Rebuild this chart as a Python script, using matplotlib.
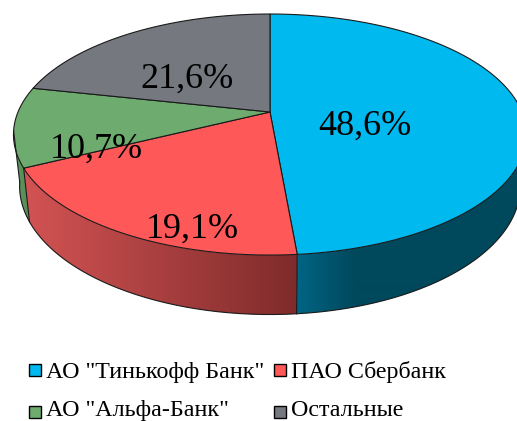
import numpy as np
import matplotlib
matplotlib.use("Agg")
import matplotlib.pyplot as plt
from matplotlib.patches import Polygon, Rectangle

labels = ['АО "Тинькофф Банк"', 'ПАО Сбербанк', 'АО "Альфа-Банк"', 'Остальные']
values = [48.6, 19.1, 10.7, 21.6]
value_text = ['48,6%', '19,1%', '10,7%', '21,6%']
colors = ['#00B9EE', '#FF5858', '#6EAB6E', '#75787F']
# side wall gradient, left colour to right colour across the given pixel span
side_left = ['#006584', '#D35353', '#5E955E', '#5A5C62']
side_right = ['#00485C', '#7F2B2B', '#588C58', '#5A5C62']
side_span = [(297, 355), (24, 297), (13, 30), (0, 517)]
label_xy = [(365, 135), (192, 238), (96, 158), (187, 88)]
legend_xy = [(28.5, 369.5), (273.5, 369.5), (28.5, 412), (273.5, 412)]
legend_baseline = [378, 378, 416, 416]

CX, CY = 270, 112
A, B, K = 252, 116.3, 0.187
A2, B2, D = 246, 124, 50
FONT = 'Liberation Serif'


def top_rim(theta):
    X, Y = np.sin(theta), np.cos(theta)
    w = 1 + K * Y
    return CX + A * X / w, CY - B * Y / w


def bottom_rim(theta):
    X, Y = np.sin(theta), np.cos(theta)
    w = 1 + K * Y
    return CX + A2 * X / w, CY + D - B2 * Y / w


fig = plt.figure(figsize=(5.17, 4.21), dpi=100)
ax = fig.add_axes([0, 0, 1, 1])
ax.axis('off')

edges = 2 * np.pi * np.concatenate([[0], np.cumsum(values)]) / sum(values)
vis_lo, vis_hi = np.radians(100), np.radians(261)
LINE = dict(color='#1a1a1a', lw=0.8, zorder=5)

# side wall: a horizontal gradient clipped to each slice's wall
for i in range(len(values)):
    lo, hi = max(edges[i], vis_lo), min(edges[i + 1], vis_hi)
    if hi <= lo:
        continue
    ts = np.linspace(lo, hi, 200)
    tx, ty = top_rim(ts)
    bx, by = bottom_rim(ts)
    poly = Polygon(np.column_stack([np.r_[tx, bx[::-1]], np.r_[ty, by[::-1]]]),
                   closed=True, fc='none', ec='none', transform=ax.transData)
    ax.add_patch(poly)
    c0 = np.array(matplotlib.colors.to_rgb(side_left[i]))
    c1 = np.array(matplotlib.colors.to_rgb(side_right[i]))
    xs = np.arange(0, 518)
    f = np.clip((xs - side_span[i][0]) / (side_span[i][1] - side_span[i][0]), 0, 1)[:, None]
    grad = (c0 * (1 - f) + c1 * f)[None, :, :]
    im = ax.imshow(grad, extent=(0, 518, 421, 0), aspect='auto', zorder=1, interpolation='bilinear')
    im.set_clip_path(poly)

ax.set_xlim(0, 517)
ax.set_ylim(421, 0)

# lower outline and vertical edges
ts = np.linspace(vis_lo, vis_hi, 300)
ax.plot(*bottom_rim(ts), **LINE)
ax.plot([top_rim(vis_hi)[0], bottom_rim(vis_hi)[0]], [top_rim(vis_hi)[1], bottom_rim(vis_hi)[1]], **LINE)
for e in edges[1:3]:
    tx, ty = top_rim(e)
    bx, by = bottom_rim(e)
    ax.plot([tx, bx], [ty, by], **LINE)

# top face
for i in range(len(values)):
    ts = np.linspace(edges[i], edges[i + 1], 200)
    x, y = top_rim(ts)
    pts = [(CX, CY)] + list(zip(x, y))
    ax.add_patch(Polygon(pts, closed=True, fc=colors[i], ec='#1a1a1a', lw=0.8, zorder=3, joinstyle='round'))

for t, (x, y) in zip(value_text, label_xy):
    ax.text(x, y, t, family=FONT, fontsize=26, ha='center', va='baseline', color='black', zorder=6)

for name, col, (x, y), base in zip(labels, colors, legend_xy, legend_baseline):
    ax.add_patch(Rectangle((x, y - 6), 12, 12, fc=col, ec='black', lw=1.0, zorder=6))
    ax.text(x + 17.5, base, name, family=FONT, fontsize=17.3, ha='left', va='baseline', color='black', zorder=6)

fig.savefig('out.png', dpi=100)
